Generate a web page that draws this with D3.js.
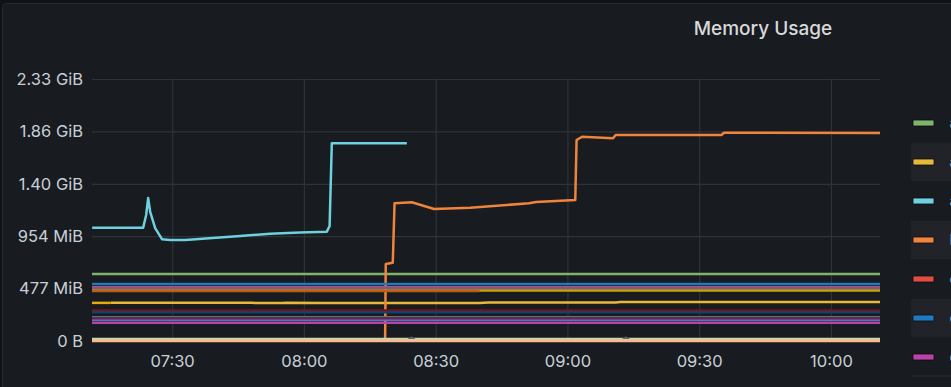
<!DOCTYPE html>
<html>
<head>
<meta charset="utf-8">
<script src="https://cdn.jsdelivr.net/npm/d3@7"></script>
<style>
  html, body { margin: 0; padding: 0; background: #111217; overflow: hidden; }
  svg { display: block; font-family: Inter, "Noto Sans", Roboto, sans-serif; }
</style>
</head>
<body>
<svg width="951" height="387"></svg>
<script>
// tick labels as grafana printed them (bytes, 500MB steps)
var yTickBytes = [0, 5e8, 1e9, 1.5e9, 2e9, 2.5e9];
var yTickLabels = ["0 B", "477 MiB", "954 MiB", "1.40 GiB", "1.86 GiB", "2.33 GiB"];
var xTickTimes = ["07:30", "08:00", "08:30", "09:00", "09:30", "10:00"];
var timeStart = "07:11:45", timeEnd = "10:11:10";

// series names (legend is cut off on the right)
var seriesNames = ["alertmanager", "api-gateway", "auth-service", "billing-worker", "cache",
  "config-server", "discovery", "etcd", "event-bus", "exporter", "grafana", "ingest",
  "kafka", "loki", "mailer", "node-exporter", "notifier", "promtail", "proxy", "scheduler", "web"];

// values in MiB, [time, value]
var s_green   = [["07:11:45", 610], ["10:11:10", 610]];
var s_yellow  = [["07:16:00", 349], ["07:48:00", 349], ["07:49:00", 345], ["07:55:00", 345], ["07:56:00", 349],
                 ["08:05:00", 345], ["08:40:00", 345], ["08:42:00", 351], ["09:11:00", 351], ["09:12:00", 355], ["10:11:10", 355]];
var s_cyan    = [["07:11:47", 1031], ["07:23:24", 1031], ["07:24:05", 1147], ["07:24:32", 1301], ["07:25:00", 1174],
                 ["07:26:08", 1028], ["07:27:43", 925], ["07:29:33", 919], ["07:32:58", 919], ["07:45:29", 956],
                 ["07:52:19", 976], ["07:59:08", 987], ["08:05:13", 995], ["08:05:51", 1047], ["08:06:21", 1799],
                 ["08:23:26", 1799]];
var s_orange  = [["08:18:29", 0], ["08:18:38", 701], ["08:20:14", 713], ["08:20:38", 1253], ["08:24:34", 1262],
                 ["08:29:38", 1201], ["08:37:50", 1213], ["08:51:16", 1253], ["08:52:52", 1265], ["09:01:47", 1283],
                 ["09:02:05", 1829], ["09:03:20", 1859], ["09:10:23", 1845], ["09:10:58", 1875], ["09:35:07", 1875],
                 ["09:35:39", 1895], ["10:11:10", 1893]];
var s_red     = [["07:11:45", 489], ["10:11:10", 489]];
var s_blue    = [["07:11:45", 519], ["10:11:10", 519]];
var s_magenta = [["07:11:45", 167], ["10:11:10", 167]];
var s_purple  = [["07:11:45", 482], ["10:11:10", 482]];
var s_dkgreen = [["07:11:45", 216], ["10:11:10", 216]];
var s_dkyellow= [["07:11:45", 460], ["10:11:10", 460]];
var s_blue2   = [["07:11:45", 194], ["10:11:10", 194]];
var s_dkorange= [["07:11:45", 455], ["08:40:00", 455]];
var s_dkred   = [["07:11:45", 278], ["10:11:10", 278]];
var s_dkblue  = [["07:11:45", 262], ["10:11:10", 262]];
var s_plum    = [["07:11:45", 206], ["10:11:10", 206]];
var s_gold2   = [["07:11:45", 347], ["07:16:00", 347]];
var s_ltgreen = [["07:11:45", 18], ["10:11:10", 18]];
var s_sand    = [["07:11:45", 10], ["10:11:10", 10]];
var s_gray    = [["07:11:45", 7], ["08:23:40", 7], ["08:24:30", 30], ["08:25:20", 7], ["09:12:30", 7],
                 ["09:13:20", 30], ["09:14:10", 7], ["10:11:10", 7]];
var s_cream   = [["07:11:45", 5], ["10:11:10", 5]];
var s_peach   = [["07:11:45", 1], ["10:11:10", 1]];

// draw order (later on top) and colours from the classic palette
var seriesData = [s_green, s_yellow, s_cyan, s_orange, s_red, s_blue, s_magenta, s_purple, s_dkgreen,
  s_dkyellow, s_blue2, s_dkorange, s_dkred, s_dkblue, s_plum, s_gold2, s_ltgreen, s_sand, s_gray, s_cream, s_peach];
var seriesColors = ["#7EB26D", "#EAB839", "#6ED0E0", "#EF843C", "#E24D42", "#1F78C1", "#BA43A9", "#705DA0",
  "#508642", "#CCA300", "#447EBC", "#C15C17", "#890F02", "#0A437C", "#6D1F62", "#E5AC0E", "#B7DBAB",
  "#F4D598", "#5c6168", "#FCEACA", "#F9BA8F"];

var svg = d3.select("svg"),
    W = +svg.attr("width"),
    H = +svg.attr("height");

var plot = {left: 92, right: 880, top: 79, bottom: 341};
var MiB = 1048576;
var parseT = d3.timeParse("%H:%M:%S"),
    parseHM = d3.timeParse("%H:%M");

// panel
svg.append("rect")
  .attr("x", 2.5).attr("y", 3.5)
  .attr("width", W + 10).attr("height", H + 10)
  .attr("rx", 3)
  .attr("fill", "#181b1f")
  .attr("stroke", "#262a30");

svg.append("text")
  .attr("x", 763).attr("y", 35)
  .attr("text-anchor", "middle")
  .attr("fill", "#d8d9da")
  .style("font-size", "19px")
  .style("font-weight", 500)
  .text("Memory Usage");

var x = d3.scaleTime()
  .domain([parseT(timeStart), parseT(timeEnd)])
  .range([plot.left, plot.right]);

var y = d3.scaleLinear()
  .domain([0, 2.5e9 / MiB])
  .range([plot.bottom, plot.top]);

// y grid + labels
var yAxis = svg.append("g")
  .attr("transform", "translate(" + plot.left + ",0)")
  .call(d3.axisLeft(y)
    .tickValues(yTickBytes.map(function(b) { return b / MiB; }))
    .tickSize(-(plot.right - plot.left))
    .tickPadding(9)
    .tickFormat(function(d, i) { return yTickLabels[i]; }));
yAxis.select(".domain").remove();
yAxis.selectAll("line").attr("stroke", "#2f3237").attr("stroke-width", 1.2);
yAxis.selectAll("text").attr("fill", "#c7d0d9").style("font-size", "16.5px").style("font-family", "Inter, sans-serif");

// x grid + labels
var xAxis = svg.append("g")
  .attr("transform", "translate(0," + plot.bottom + ")")
  .call(d3.axisBottom(x)
    .tickValues(xTickTimes.map(function(t) { return parseHM(t); }))
    .tickSize(-(plot.bottom - plot.top))
    .tickPadding(14)
    .tickFormat(d3.timeFormat("%H:%M")));
xAxis.select(".domain").remove();
xAxis.selectAll("line").attr("stroke", "#2f3237").attr("stroke-width", 1.2);
xAxis.selectAll("text").attr("fill", "#c7d0d9").style("font-size", "16.5px").style("font-family", "Inter, sans-serif");

// series lines
var line = d3.line()
  .x(function(d) { return x(parseT(d[0])); })
  .y(function(d) { return y(d[1]); });

svg.append("g")
  .attr("class", "series")
  .selectAll("path")
  .data(seriesData)
  .enter().append("path")
    .attr("d", line)
    .attr("fill", "none")
    .attr("stroke", function(d, i) { return seriesColors[i]; })
    .attr("stroke-width", 2.5)
    .attr("stroke-linejoin", "round");

// legend (mostly off the right edge)
var legendRows = 7, rowH = 39, legendTop = 103.5, legendX = 911;
var legend = svg.append("g").attr("class", "legend");
var rows = legend.selectAll("g")
  .data(d3.range(legendRows))
  .enter().append("g")
    .attr("transform", function(i) { return "translate(" + legendX + "," + (legendTop + i * rowH) + ")"; });

rows.append("rect")
  .attr("width", W - legendX).attr("height", rowH)
  .attr("fill", function(i) { return i % 2 ? "#212328" : "none"; });
rows.append("rect")
  .attr("x", 2).attr("y", rowH / 2 - 3)
  .attr("width", 21).attr("height", 6)
  .attr("rx", 1)
  .attr("fill", function(i) { return seriesColors[i]; })
  .attr("stroke", "#0b0c0e").attr("stroke-width", 0.8);
rows.append("text")
  .attr("x", 38.5).attr("y", rowH / 2 + 5)
  .attr("fill", "#9fa7b3")
  .style("font-size", "14px")
  .text(function(i) { return seriesNames[i]; });

legend.append("line")
  .attr("x1", legendX).attr("x2", W)
  .attr("y1", 376).attr("y2", 376)
  .attr("stroke", "#2a2d33");
</script>
</body>
</html>
